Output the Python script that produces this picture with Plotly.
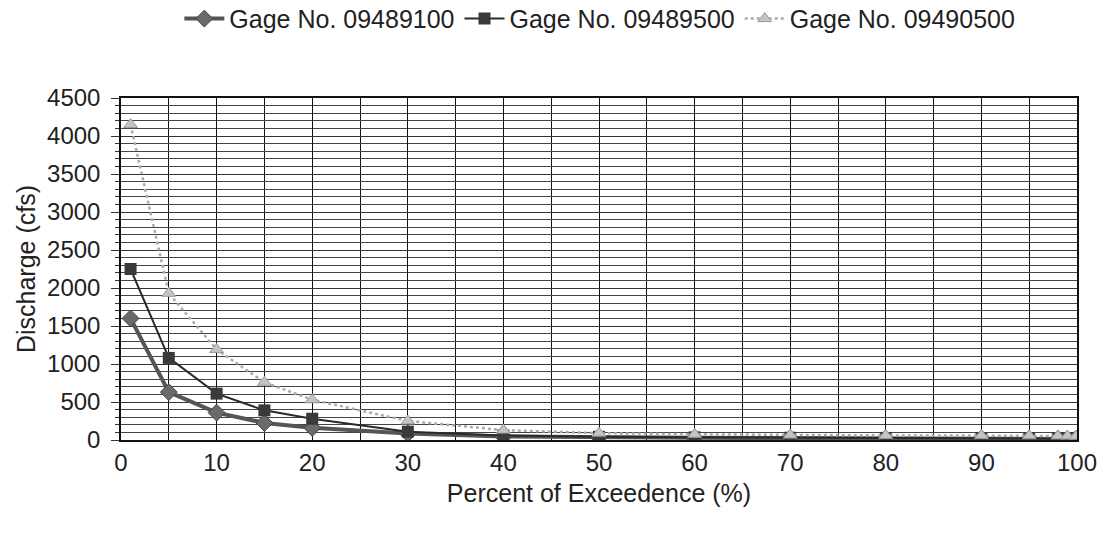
import plotly.graph_objects as go

x_pct = [1, 5, 10, 15, 20, 30, 40, 50, 60, 70, 80, 90, 95, 98, 99, 99.9]
gage_09489100 = [1600, 630, 360, 225, 160, 85, 45, 33, 28, 25, 22, 20, 18, 16, 15, 14]
gage_09489500 = [2250, 1080, 610, 390, 280, 110, 60, 42, 35, 30, 27, 24, 22, 20, 19, 18]
gage_09490500 = [4150, 1930, 1190, 760, 530, 250, 130, 90, 75, 65, 60, 58, 56, 54, 52, 50]
y_ticks = [0, 500, 1000, 1500, 2000, 2500, 3000, 3500, 4000, 4500]
x_ticks = [0, 10, 20, 30, 40, 50, 60, 70, 80, 90, 100]

FONT = "Liberation Sans"

fig = go.Figure()
fig.add_trace(go.Scatter(
    x=x_pct, y=gage_09489100, name="Gage No. 09489100", mode="lines+markers",
    line=dict(color="#555555", width=4),
    marker=dict(symbol="diamond", size=13, color="#6a6a6a", line=dict(color="#444444", width=1))))
fig.add_trace(go.Scatter(
    x=x_pct, y=gage_09489500, name="Gage No. 09489500", mode="lines+markers",
    line=dict(color="#2a2a2a", width=2),
    marker=dict(symbol="square", size=12, color="#3a3a3a")))
fig.add_trace(go.Scatter(
    x=x_pct, y=gage_09490500, name="Gage No. 09490500", mode="lines+markers",
    line=dict(color="#aaaaaa", width=2.5, dash="dot"),
    marker=dict(symbol="triangle-up", size=12, color="#c4c4c4", line=dict(color="#999999", width=1))))

fig.update_layout(
    width=1117, height=539,
    margin=dict(l=121, r=40, t=98, b=99, autoexpand=False),
    paper_bgcolor="white", plot_bgcolor="white",
    font=dict(family=FONT, size=24, color="#222222"),
    showlegend=True,
    legend=dict(orientation="h", x=0.537, xanchor="center", xref="container",
                y=0.965, yanchor="middle", yref="container",
                font=dict(size=25), itemwidth=40, tracegroupgap=0),
)
fig.update_xaxes(
    range=[0, 100], tickvals=x_ticks, showgrid=True, gridcolor="#111111", gridwidth=1,
    minor=dict(dtick=5, showgrid=True, gridcolor="#111111", gridwidth=1),
    showline=True, linecolor="#111111", linewidth=1.5, mirror=True,
    ticks="", zeroline=False,
    title=dict(text="Percent of Exceedence (%)", font=dict(size=25), standoff=10),
    tickfont=dict(size=24),
)
fig.update_yaxes(
    range=[0, 4500], tickvals=y_ticks, showgrid=True, gridcolor="#333333", gridwidth=1,
    minor=dict(dtick=100, showgrid=True, gridcolor="#444444", gridwidth=1, ticks="outside", ticklen=4),
    showline=True, linecolor="#111111", linewidth=1.5, mirror=True,
    ticks="outside", ticklen=8, tickcolor="#333333", zeroline=False,
    ticklabelstandoff=6,
    title=dict(text="Discharge (cfs)", font=dict(size=25), standoff=4),
    tickfont=dict(size=24),
)

fig.write_html("out.html")
